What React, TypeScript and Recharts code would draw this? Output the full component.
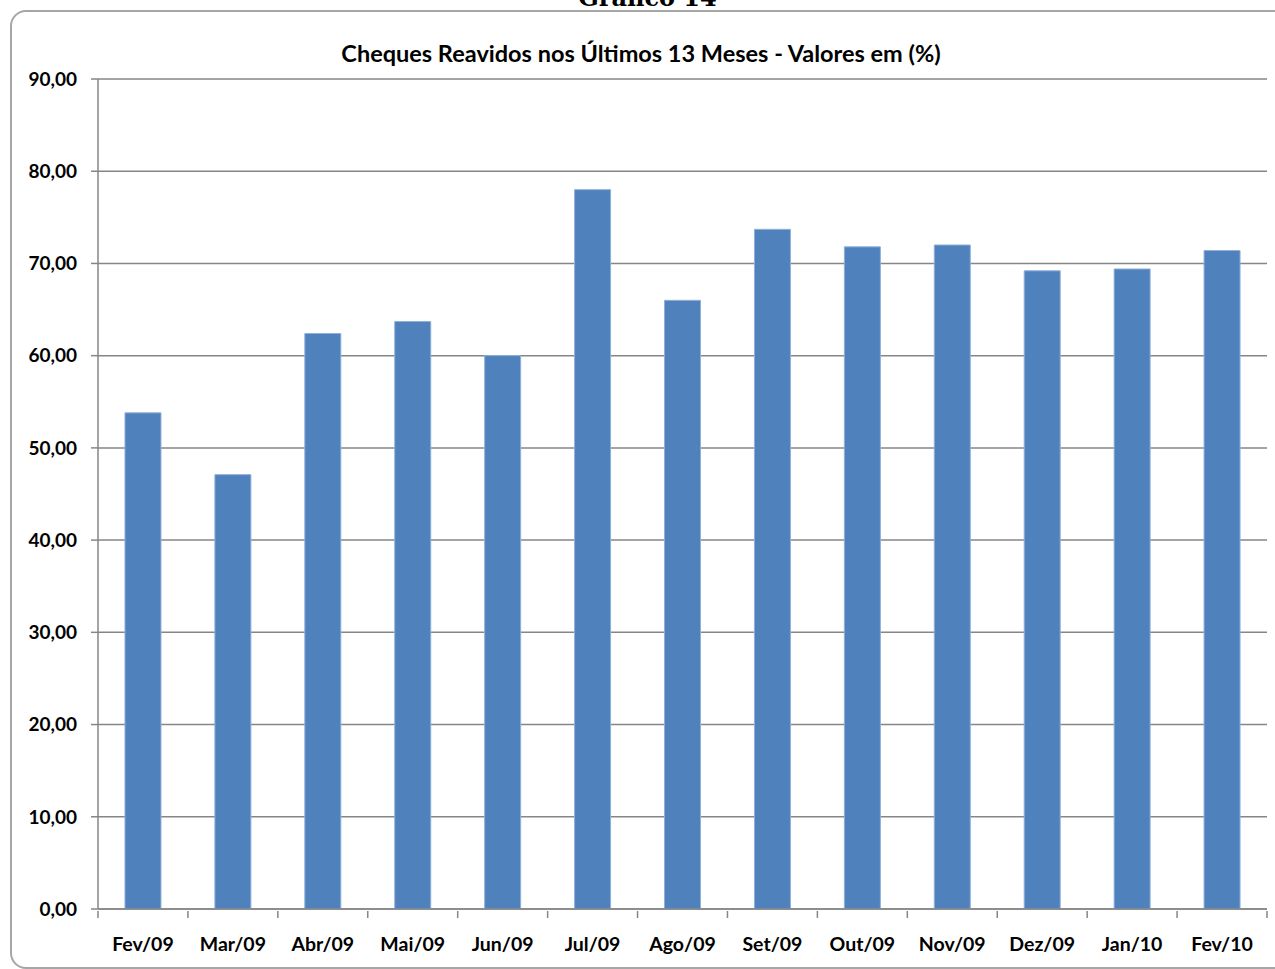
import { BarChart, Bar, XAxis, YAxis, CartesianGrid } from 'recharts';

const months = ['Fev/09', 'Mar/09', 'Abr/09', 'Mai/09', 'Jun/09', 'Jul/09', 'Ago/09', 'Set/09', 'Out/09', 'Nov/09', 'Dez/09', 'Jan/10', 'Fev/10'];
const reavidos = [53.8, 47.1, 62.4, 63.7, 60.0, 78.0, 66.0, 73.7, 71.8, 72.0, 69.2, 69.4, 71.4];
const yTicks = [0, 10, 20, 30, 40, 50, 60, 70, 80, 90];

const chartData = months.map((m, i) => ({ month: m, value: reavidos[i] }));

const W = 1275;
const H = 969;
const margin = { top: 79, right: 8, bottom: 0, left: 10 };
const yAxisWidth = 88;
const plotWidth = W - margin.left - margin.right - yAxisWidth;
const band = plotWidth / months.length;

const font = 'Lato, "Open Sans", sans-serif';

function MonthTick(props: any) {
  const { x, y, payload, index } = props;
  const last = index === months.length - 1;
  return (
    <g>
      <line x1={x - band / 2} y1={y - 6} x2={x - band / 2} y2={y + 1} stroke="#868686" strokeWidth={1.5} />
      {last && <line x1={x + band / 2} y1={y - 6} x2={x + band / 2} y2={y + 1} stroke="#868686" strokeWidth={1.5} />}
      <text x={x} y={y + 34} textAnchor="middle" fontFamily={font} fontWeight={700} fontSize={19.5} fill="#000">
        {payload.value}
      </text>
    </g>
  );
}

export default function App() {
  return (
    <div style={{ position: 'absolute', left: 0, top: 0, width: W, height: H, overflow: 'hidden', background: '#fff' }}>
      <div
        style={{
          position: 'absolute',
          left: 0,
          right: 0,
          top: -17,
          textAlign: 'center',
          paddingLeft: 20,
          fontFamily: '"DejaVu Serif", serif',
          fontWeight: 700,
          fontSize: 24,
        }}
      >
        Gráfico 14
      </div>
      <div
        style={{
          position: 'absolute',
          left: 10,
          top: 10,
          width: 1300,
          height: 955,
          border: '2px solid #a6a6a6',
          borderRadius: 16,
        }}
      />
      <div
        style={{
          position: 'absolute',
          left: 0,
          width: 1282,
          top: 39,
          textAlign: 'center',
          fontFamily: font,
          fontWeight: 700,
          fontSize: 23.5,
          color: '#000',
        }}
      >
        Cheques Reavidos nos Últimos 13 Meses - Valores em (%)
      </div>
      <div style={{ position: 'absolute', left: 0, top: 0 }}>
        <BarChart width={W} height={H} data={chartData} margin={margin} barCategoryGap="30%">
          <CartesianGrid vertical={false} stroke="#868686" strokeWidth={1.5} />
          <XAxis
            dataKey="month"
            height={60}
            tickLine={false}
            axisLine={{ stroke: '#868686', strokeWidth: 1.5 }}
            tick={<MonthTick />}
            interval={0}
          />
          <YAxis
            width={yAxisWidth}
            domain={[0, 90]}
            ticks={yTicks}
            interval={0}
            tickSize={7}
            tickMargin={14}
            tickLine={{ stroke: '#868686', strokeWidth: 1.5 }}
            axisLine={{ stroke: '#868686', strokeWidth: 1.5 }}
            tick={{ fontFamily: font, fontWeight: 700, fontSize: 19, fill: '#000' }}
            tickFormatter={(v: number) => v.toFixed(2).replace('.', ',')}
          />
          <Bar dataKey="value" fill="#4F81BD" stroke="#8EB0DA" strokeWidth={1} isAnimationActive={false} />
        </BarChart>
      </div>
    </div>
  );
}
